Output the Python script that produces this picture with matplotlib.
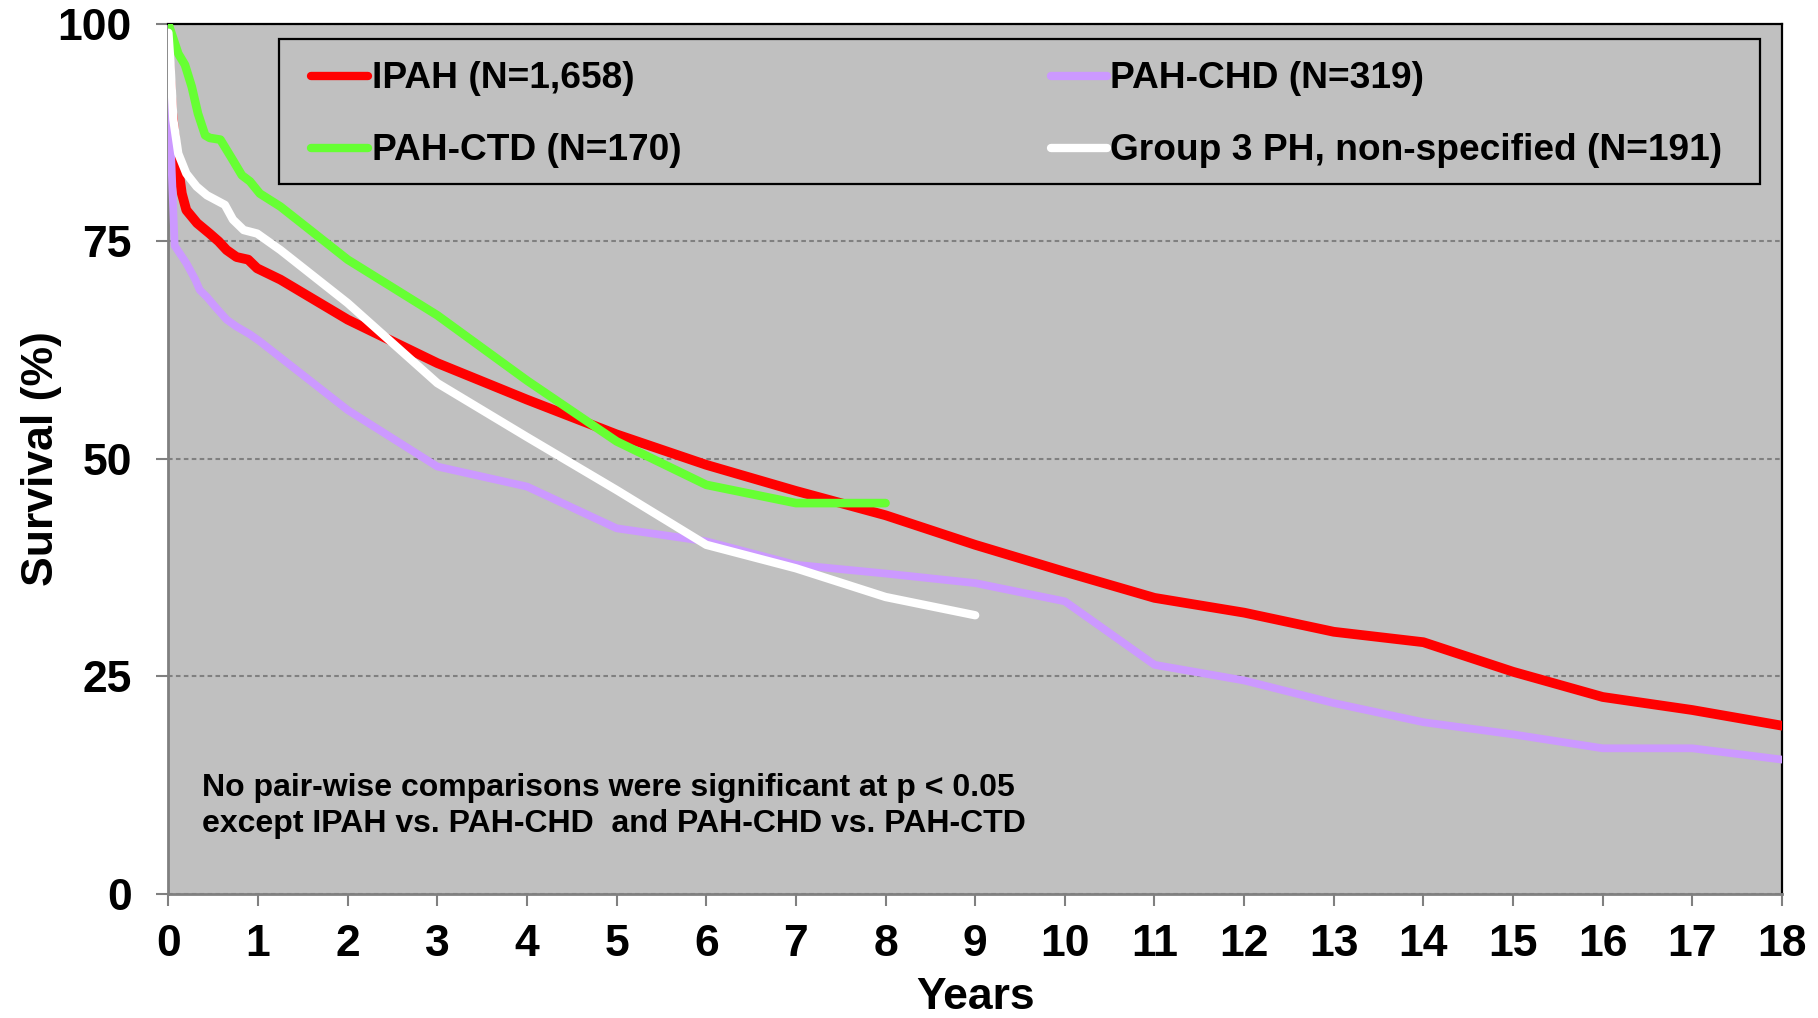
import matplotlib
matplotlib.use("Agg")
import matplotlib.pyplot as plt
from matplotlib.patches import Rectangle

plt.rcParams['font.family'] = ['Liberation Sans', 'DejaVu Sans']
plt.rcParams['font.weight'] = 'bold'

# ---------------- data ----------------
ipah_t = [0, 0.04, 0.09, 0.15, 0.20, 0.32, 0.46, 0.56, 0.65, 0.76, 0.89, 0.99, 1.25,
          2, 3, 4, 5, 6, 7, 8, 9, 10, 11, 12, 13, 14, 15, 16, 17, 18]
ipah_s = [97, 90, 85, 80.5, 78.6, 77.1, 75.9, 75.0, 74.0, 73.2, 72.9, 71.9, 70.6,
          66.0, 61.0, 56.8, 52.8, 49.3, 46.3, 43.5, 40.1, 37.0, 34.0, 32.3, 30.1, 28.9,
          25.5, 22.6, 21.1, 19.3]

chd_t = [0, 0.03, 0.07, 0.20, 0.30, 0.35, 0.43, 0.52, 0.65, 0.76, 0.91, 1.02,
         2, 3, 4, 5, 6, 7, 8, 9, 10, 11, 12, 13, 14, 15, 16, 17, 18]
chd_s = [95, 85, 74.5, 72.5, 70.6, 69.4, 68.6, 67.5, 66.0, 65.2, 64.3, 63.5,
         55.6, 49.1, 46.8, 42.0, 40.5, 37.8, 36.8, 35.7, 33.6, 26.3, 24.5, 21.9, 19.7,
         18.3, 16.7, 16.7, 15.4]

ctd_t = [0, 0.11, 0.185, 0.26, 0.33, 0.41, 0.46, 0.58, 0.71, 0.82, 0.91, 1.02, 1.25,
         2, 3, 4, 5, 6, 7, 8]
ctd_s = [100, 96.6, 95.3, 92.8, 89.7, 87.2, 86.9, 86.7, 84.5, 82.6, 81.9, 80.5, 79.0,
         72.9, 66.5, 59.0, 52.0, 47.0, 44.9, 44.9]

g3_t = [0, 0.02, 0.055, 0.11, 0.20, 0.315, 0.43, 0.63, 0.72, 0.84, 0.99, 1.25,
        2, 3, 4, 5, 6, 7, 8, 9]
g3_s = [99, 96, 89.0, 85.1, 82.8, 81.3, 80.3, 79.2, 77.5, 76.3, 75.9, 74.0,
        67.9, 58.7, 52.5, 46.4, 40.1, 37.4, 34.1, 32.0]

labels = ["IPAH (N=1,658)", "PAH-CHD (N=319)", "PAH-CTD (N=170)",
          "Group 3 PH, non-specified (N=191)"]
colors = ["#FF0000", "#CC99FF", "#66FF33", "#FFFFFF"]
x_ticks = list(range(0, 19))
y_ticks = [0, 25, 50, 75, 100]
note_lines = ["No pair-wise comparisons were significant at p < 0.05",
              "except IPAH vs. PAH-CHD  and PAH-CHD vs. PAH-CTD"]

# ---------------- figure ----------------
W, H = 1818, 1018
fig = plt.figure(figsize=(W / 100, H / 100), dpi=100)
L, R, T, B = 168.4, 1782.0, 24.0, 893.5
ax = fig.add_axes([L / W, 1 - B / H, (R - L) / W, (B - T) / H])
ax.set_facecolor("#C0C0C0")

series = [(ipah_t, ipah_s, 7.0), (chd_t, chd_s, 5.6), (ctd_t, ctd_s, 6.2), (g3_t, g3_s, 6.0)]
for (t, s, lw), c in zip(series, colors):
    ax.plot(t, s, color=c, lw=lw, solid_capstyle='round', solid_joinstyle='round', zorder=3)

ax.set_xlim(0, 18)
ax.set_ylim(0, 100)
ax.set_xticks(x_ticks)
ax.set_yticks(y_ticks)
ax.set_axisbelow(True)
ax.yaxis.grid(True, color="#808080", lw=1.5, linestyle=(0, (2.2, 1.6)))
ax.xaxis.grid(False)

for side in ("left", "bottom"):
    ax.spines[side].set_color("#808080")
    ax.spines[side].set_linewidth(2.0)
for side in ("top", "right"):
    ax.spines[side].set_color("black")
    ax.spines[side].set_linewidth(1.6)

ax.tick_params(axis='both', direction='out', length=8.4, width=1.5, color="#808080",
               labelsize=32)
ax.tick_params(axis='x', pad=13.5)
ax.tick_params(axis='y', pad=18)
for lab in ax.get_xticklabels() + ax.get_yticklabels():
    lab.set_fontweight('bold')

ax.set_xlabel("Years", fontsize=32, fontweight='bold')
ax.set_ylabel("Survival (%)", fontsize=32, fontweight='bold')
ax.xaxis.set_label_coords(0.5, -0.0965)
ax.yaxis.set_label_coords(-0.0660, 0.5)

# ---------------- legend (drawn as a boxed key) ----------------
def axx(X):
    return (X - L) / (R - L)

def axy(Y):
    return (B - Y) / (B - T)

frame = Rectangle((axx(279.2), axy(184.3)), axx(1760) - axx(279.2), axy(39.3) - axy(184.3),
                  transform=ax.transAxes, facecolor="none", edgecolor="black", lw=1.6,
                  zorder=5)
ax.add_patch(frame)
legend_slots = [  # (handle start X, handle end X, text X, center Y, baseline Y)
    (310.8, 368.0, 371.5, 75.7, 88.3),
    (1051.0, 1107.0, 1109.7, 75.7, 88.3),
    (310.8, 368.0, 371.5, 148.3, 160.5),
    (1051.0, 1107.0, 1109.7, 148.3, 160.5),
]
order = [0, 1, 2, 3]  # IPAH, PAH-CHD, PAH-CTD, Group 3
for idx, (hx0, hx1, tx, cy, by) in zip(order, legend_slots):
    ax.plot([axx(hx0), axx(hx1)], [axy(cy), axy(cy)], transform=ax.transAxes,
            color=colors[idx], lw=6.0, solid_capstyle='round', clip_on=False, zorder=6)
    ax.text(axx(tx), axy(by), labels[idx], transform=ax.transAxes, fontsize=26.7,
            fontweight='bold', ha='left', va='baseline', zorder=6)

# ---------------- note ----------------
ax.text(axx(202), axy(796), note_lines[0], transform=ax.transAxes, fontsize=23,
        fontweight='bold', ha='left', va='baseline', zorder=6)
ax.text(axx(202), axy(832), note_lines[1], transform=ax.transAxes, fontsize=23,
        fontweight='bold', ha='left', va='baseline', zorder=6)

fig.savefig("out.png", dpi=100, facecolor="white")
